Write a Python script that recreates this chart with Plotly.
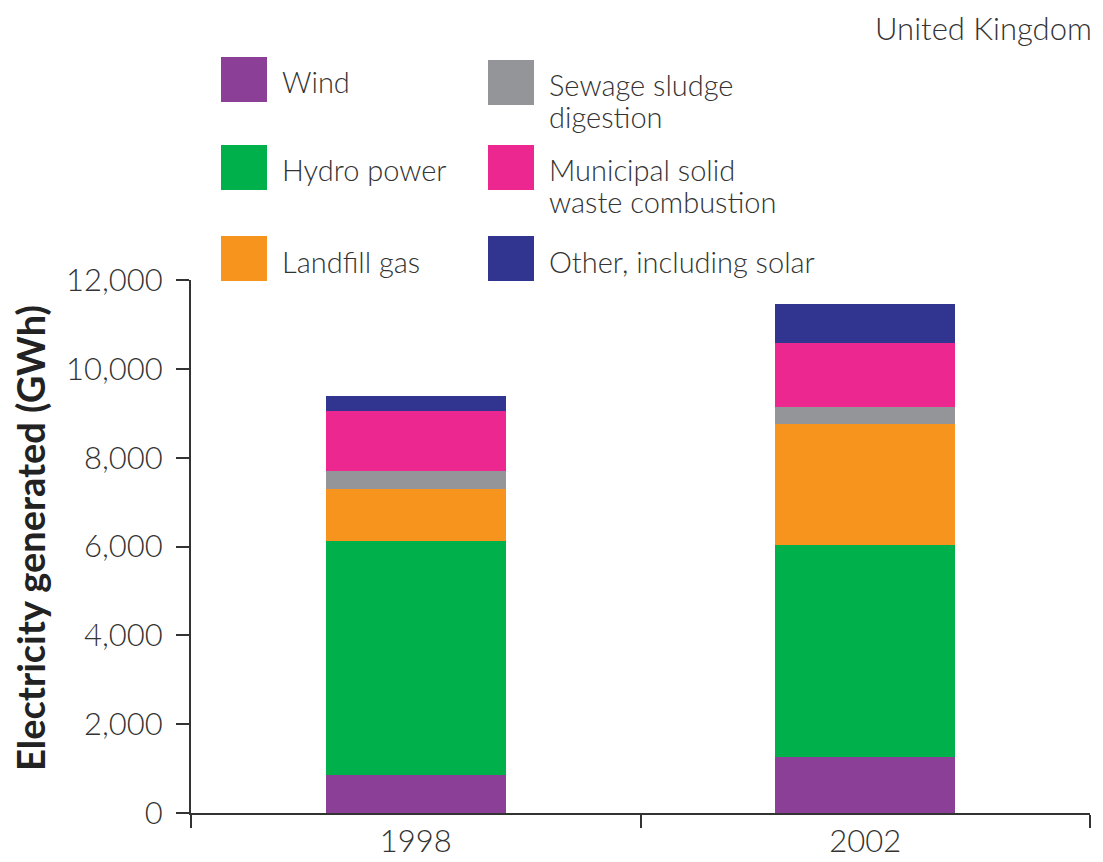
import plotly.graph_objects as go

years = ["1998", "2002"]
series_names = ["Wind", "Hydro power", "Landfill gas", "Sewage sludge digestion",
                "Municipal solid waste combustion", "Other, including solar"]
legend_labels = ["Wind", "Hydro power", "Landfill gas", "Sewage sludge<br>digestion",
                 "Municipal solid<br>waste combustion", "Other, including solar"]
wind = [860, 1250]
hydro = [5270, 4790]
landfill = [1170, 2710]
sewage = [390, 400]
msw = [1370, 1440]
other = [320, 880]
colors = ["#8B3F96", "#00B04A", "#F6941E", "#939598", "#EC2790", "#32358F"]
y_ticks = [0, 2000, 4000, 6000, 8000, 10000, 12000]

W, H = 1103, 862
L, R, T, B = 191, 1090, 280, 813
FONT = "Lato"
TXT = "#333333"

def px(x):
    return (x - L) / (R - L)

def py(y):
    return (B - y) / (B - T)

fig = go.Figure()
for name, vals, c in zip(series_names, [wind, hydro, landfill, sewage, msw, other], colors):
    fig.add_trace(go.Bar(x=years, y=vals, name=name, marker=dict(color=c, line=dict(width=0)),
                         width=0.4, showlegend=False))

shapes = []
annotations = []
sw_x = [221, 488]
sw_y = [57, 145, 236]
txt_x = [280, 547]
for i, (lab, c) in enumerate(zip(legend_labels, colors)):
    col, row = divmod(i, 3)
    x0 = sw_x[col]
    y0 = sw_y[row] + (3 if col == 1 and row == 0 else 0)
    shapes.append(dict(type="rect", xref="paper", yref="paper",
                       x0=px(x0), x1=px(x0 + 46), y0=py(y0), y1=py(y0 + 45),
                       fillcolor=c, line=dict(width=0), layer="above"))
    for j, line in enumerate(lab.split("<br>")):
        cy = y0 + 25 + j * 31
        annotations.append(dict(text=line, xref="paper", yref="paper", x=px(txt_x[col]), y=py(cy),
                                xanchor="left", yanchor="middle", showarrow=False, align="left",
                                font=dict(family=FONT, size=29, color=TXT, weight=300)))

annotations.append(dict(text="United Kingdom", xref="paper", yref="paper", x=px(1094), y=py(7),
                        xanchor="right", yanchor="top", showarrow=False,
                        font=dict(family=FONT, size=31, color=TXT, weight=300)))
annotations.append(dict(text="<b>Electricity generated (GWh)</b>", xref="paper", yref="paper",
                        x=px(30), y=py(538), xanchor="center", yanchor="middle", textangle=-90,
                        showarrow=False, font=dict(family=FONT, size=38, color="#222222")))

fig.update_layout(
    barmode="stack",
    width=W, height=H,
    margin=dict(l=L, r=W - R, t=T, b=H - B, autoexpand=False),
    plot_bgcolor="white", paper_bgcolor="white",
    shapes=shapes, annotations=annotations,
    xaxis=dict(type="category", range=[-0.5, 1.5], showline=True, linecolor="#333333", linewidth=2,
               ticks="outside", tickson="boundaries", ticklen=13, tickwidth=2, tickcolor="#333333",
               showgrid=False, tickfont=dict(family=FONT, size=31, color=TXT, weight=300)),
    yaxis=dict(range=[0, 12000], tickvals=y_ticks, tickformat=",d", showline=True,
               linecolor="#333333", linewidth=2, ticks="outside", ticklen=13, tickwidth=2,
               tickcolor="#333333", showgrid=False, zeroline=False, ticklabelstandoff=7,
               tickfont=dict(family=FONT, size=31, color=TXT, weight=300)),
)

fig.write_html("out.html", config={"displayModeBar": False},
               post_script="document.body.style.margin='0px';document.body.style.overflow='hidden';")
